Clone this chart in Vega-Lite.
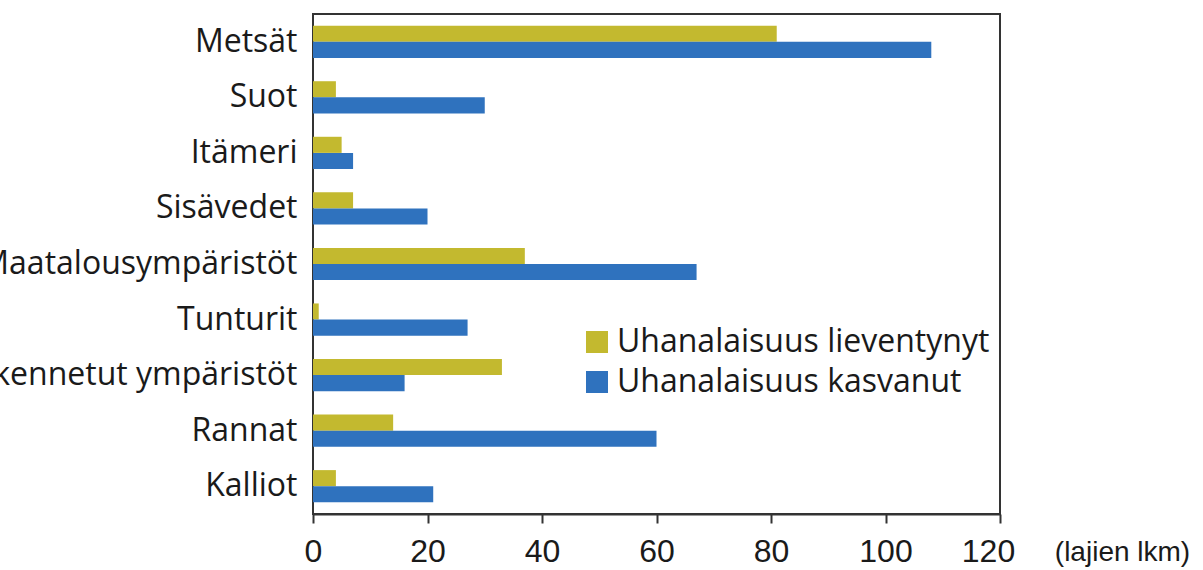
{
  "$schema": "https://vega.github.io/schema/vega-lite/v6.json",
  "width": 687,
  "height": 500,
  "autosize": {"type": "none"},
  "padding": {"left": 313, "top": 14, "right": 203, "bottom": 56},
  "background": "white",
  "config": {
    "view": {"stroke": "#333333", "strokeWidth": 2},
    "axis": {"grid": false}
  },
  "data": {
    "values": [
      {"ymparisto": "Metsät", "sarja": "Uhanalaisuus lieventynyt", "lkm": 81},
      {"ymparisto": "Metsät", "sarja": "Uhanalaisuus kasvanut", "lkm": 108},
      {"ymparisto": "Suot", "sarja": "Uhanalaisuus lieventynyt", "lkm": 4},
      {"ymparisto": "Suot", "sarja": "Uhanalaisuus kasvanut", "lkm": 30},
      {"ymparisto": "Itämeri", "sarja": "Uhanalaisuus lieventynyt", "lkm": 5},
      {"ymparisto": "Itämeri", "sarja": "Uhanalaisuus kasvanut", "lkm": 7},
      {"ymparisto": "Sisävedet", "sarja": "Uhanalaisuus lieventynyt", "lkm": 7},
      {"ymparisto": "Sisävedet", "sarja": "Uhanalaisuus kasvanut", "lkm": 20},
      {"ymparisto": "Maatalousympäristöt", "sarja": "Uhanalaisuus lieventynyt", "lkm": 37},
      {"ymparisto": "Maatalousympäristöt", "sarja": "Uhanalaisuus kasvanut", "lkm": 67},
      {"ymparisto": "Tunturit", "sarja": "Uhanalaisuus lieventynyt", "lkm": 1},
      {"ymparisto": "Tunturit", "sarja": "Uhanalaisuus kasvanut", "lkm": 27},
      {"ymparisto": "Rakennetut ympäristöt", "sarja": "Uhanalaisuus lieventynyt", "lkm": 33},
      {"ymparisto": "Rakennetut ympäristöt", "sarja": "Uhanalaisuus kasvanut", "lkm": 16},
      {"ymparisto": "Rannat", "sarja": "Uhanalaisuus lieventynyt", "lkm": 14},
      {"ymparisto": "Rannat", "sarja": "Uhanalaisuus kasvanut", "lkm": 60},
      {"ymparisto": "Kalliot", "sarja": "Uhanalaisuus lieventynyt", "lkm": 4},
      {"ymparisto": "Kalliot", "sarja": "Uhanalaisuus kasvanut", "lkm": 21}
    ]
  },
  "mark": {"type": "bar"},
  "encoding": {
    "y": {
      "field": "ymparisto",
      "type": "nominal",
      "sort": null,
      "scale": {"paddingInner": 0.42, "paddingOuter": 0.21},
      "axis": {
        "title": null,
        "domain": false,
        "ticks": false,
        "labelFont": "Open Sans",
        "labelFontSize": 32,
        "labelColor": "#1a1a1a",
        "labelPadding": 16,
        "labelLimit": 0
      }
    },
    "yOffset": {
      "field": "sarja",
      "type": "nominal",
      "sort": ["Uhanalaisuus lieventynyt", "Uhanalaisuus kasvanut"]
    },
    "x": {
      "field": "lkm",
      "type": "quantitative",
      "scale": {"domain": [0, 120], "nice": false},
      "axis": {
        "values": [0, 20, 40, 60, 80, 100, 120],
        "title": "(lajien lkm)",
        "titleFont": "Liberation Sans",
        "titleFontSize": 28,
        "titleFontWeight": "normal",
        "titleColor": "#1a1a1a",
        "titleX": 809,
        "titleY": 38,
        "titleAlign": "center",
        "titleBaseline": "middle",
        "domainColor": "#333333",
        "domainWidth": 2,
        "tickColor": "#333333",
        "tickWidth": 2,
        "tickSize": 9,
        "labelFont": "Liberation Sans",
        "labelFontSize": 32,
        "labelColor": "#1a1a1a",
        "labelPadding": 13,
        "labelFlush": false,
        "labelOffset": {"condition": {"test": "datum.value === 120", "value": -12}, "value": 0}
      }
    },
    "color": {
      "field": "sarja",
      "type": "nominal",
      "sort": ["Uhanalaisuus lieventynyt", "Uhanalaisuus kasvanut"],
      "scale": {
        "domain": ["Uhanalaisuus lieventynyt", "Uhanalaisuus kasvanut"],
        "range": ["#c3b92f", "#2f72be"]
      },
      "legend": {
        "title": null,
        "orient": "none",
        "legendX": 268,
        "legendY": 312,
        "symbolType": "square",
        "symbolSize": 484,
        "symbolStrokeWidth": 0,
        "labelFont": "Open Sans",
        "labelFontSize": 32,
        "labelColor": "#1a1a1a",
        "labelOffset": 4,
        "rowPadding": 8,
        "labelLimit": 0
      }
    }
  }
}
